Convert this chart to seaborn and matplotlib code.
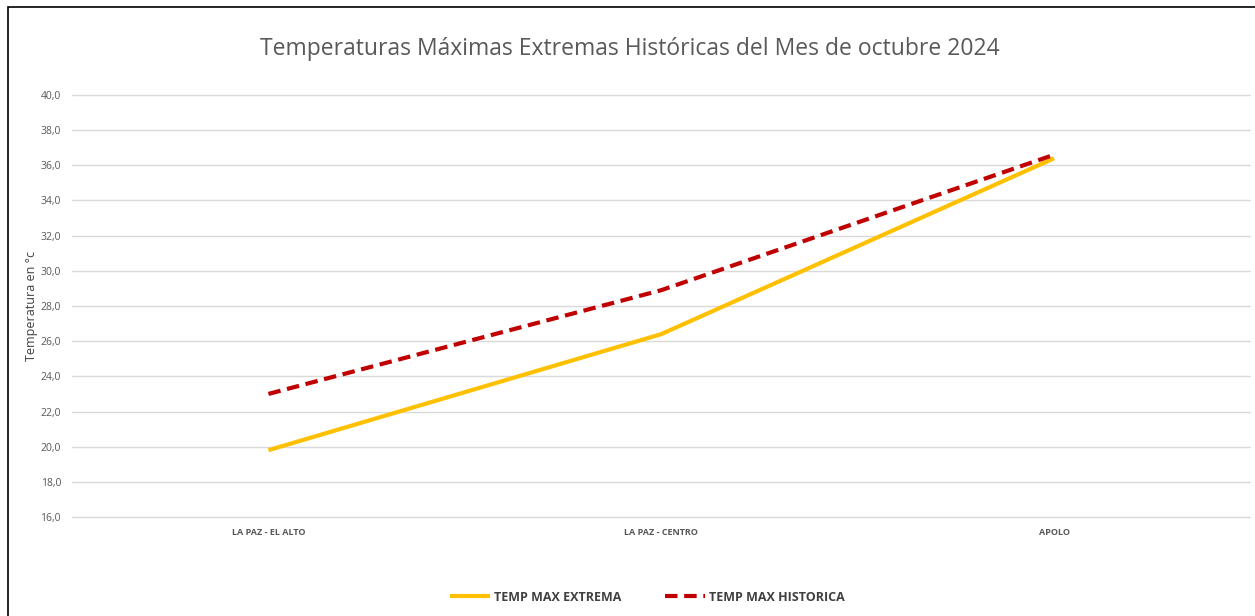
import pandas as pd
import seaborn as sns
import matplotlib.pyplot as plt
from matplotlib.patches import Rectangle

# data
estaciones = ["LA PAZ - EL ALTO", "LA PAZ - CENTRO", "APOLO"]
temp_max_extrema = [19.8, 26.4, 36.4]
temp_max_historica = [23.0, 28.9, 36.6]
y_ticks = [16, 18, 20, 22, 24, 26, 28, 30, 32, 34, 36, 38, 40]

df = pd.DataFrame({
    "estacion": estaciones * 2,
    "pos": list(range(len(estaciones))) * 2,
    "temp": temp_max_extrema + temp_max_historica,
    "serie": ["TEMP MAX EXTREMA"] * 3 + ["TEMP MAX HISTORICA"] * 3,
})

sns.set_theme(style="white")
plt.rcParams['font.family'] = ['Open Sans', 'DejaVu Sans']

fig = plt.figure(figsize=(12.55, 6.16), dpi=100)
ax = fig.add_axes([0.0574, 0.1607, 0.9390, 0.6851])

sns.lineplot(data=df, x="pos", y="temp", hue="serie", style="serie",
             palette=["#ffc000", "#c00000"], dashes=[(1, 0), (3, 1.6)],
             linewidth=3, ax=ax, legend=True)

ax.set_xlim(-0.5, 2.5)
ax.set_ylim(16, 40)
ax.set_yticks(y_ticks)
ax.set_yticklabels([f"{v:.1f}".replace(".", ",") for v in y_ticks],
                   fontsize=7.5, color="#595959")
ax.set_xticks(range(len(estaciones)))
ax.set_xticklabels(estaciones, fontsize=6.5, color="#595959", fontweight="bold")
ax.tick_params(axis="both", length=0, pad=8)
ax.yaxis.grid(True, color="#d9d9d9", linewidth=1)
for gl in ax.get_ygridlines():
    gl.set_clip_on(False)
ax.set_axisbelow(True)
for s in ax.spines.values():
    s.set_visible(False)

ax.set_xlabel("")
ax.set_ylabel("Temperatura en °c", fontsize=9, color="#404040", labelpad=2)

fig.text(0.502, 0.921, "Temperaturas Máximas Extremas Históricas del Mes de octubre 2024",
         ha="center", va="center", fontsize=16.5, color="#595959")

handles, labels = ax.get_legend_handles_labels()
ax.legend(handles, labels, loc="center", bbox_to_anchor=(0.488, -0.19), ncol=2,
          frameon=False, columnspacing=3.5, handlelength=3.2,
          handletextpad=0.3, prop={"weight": "bold", "size": 9})
for t in ax.get_legend().get_texts():
    t.set_color("#404040")

fig.patches.append(Rectangle((8 / 1255, -0.05), 1.1, 1 - 7 / 616 + 0.05,
                             transform=fig.transFigure, fill=False,
                             edgecolor="black", linewidth=1.2))

plt.savefig("out.png", dpi=100)
plt.close()
